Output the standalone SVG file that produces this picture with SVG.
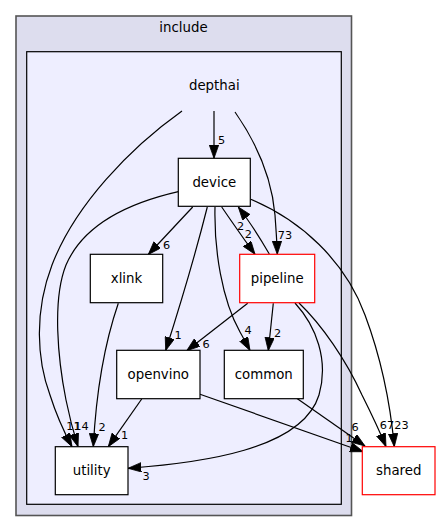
<svg xmlns="http://www.w3.org/2000/svg" width="440" height="532" viewBox="0 0 440 532">
<style>
text{font-family:"DejaVu Sans","Liberation Sans",sans-serif;fill:#000}
.nl{font-size:13.33px;text-anchor:middle}
.el{font-size:11.3px;text-anchor:middle}
.node rect{fill:#fff;stroke:#000;stroke-width:1.2}
.node.red rect{stroke:#ff0000}
.edges path{fill:none;stroke:#000;stroke-width:1.2;marker-end:url(#ah)}
</style>
<defs>
<marker id="ah" markerUnits="userSpaceOnUse" markerWidth="14" markerHeight="10" viewBox="0 0 14 10" refX="13.3" refY="4.7" orient="auto">
<path d="M0,0 L13.3,4.7 L0,9.4 z" fill="#000" stroke="#000" stroke-width="0.8"/>
</marker>
</defs>
<rect width="440" height="532" fill="#fff"/>
<g id="cluster_include">
<rect x="16" y="16" width="335.5" height="499.5" fill="#ddddee" stroke="#555" stroke-width="1.6"/>
<text class="nl" x="183.5" y="32">include</text>
</g>
<g id="cluster_depthai">
<rect x="26.7" y="51.7" width="314.6" height="452.6" fill="#eeeeff" stroke="#000" stroke-width="1.2"/>
<text class="nl" x="214.3" y="90">depthai</text>
</g>
<g class="edges" id="edges">
<path d="M214,111 L214,158.3"/>
<path d="M182,111 C130,148 75,205 52,265 C34,312 37,360 50,395 C56,414 63,430 72,446.7"/>
<path d="M178.3,191.7 C120,205 82,228 66,265 C52,300 58,360 66,400 C70,420 74,434 78,446.7"/>
<path d="M235,112 C258,145 272,180 275,215 C276,230 277,242 277.3,254.3"/>
<path d="M192.7,207 L148.3,254.5"/>
<path d="M207.3,207 C199,240 185,290 165.7,350.5"/>
<path d="M215,207 C214,250 222,300 240,332 C244,339 247,345 250,350.5"/>
<path d="M221.7,207 C232,222 243,238 255,254.3"/>
<path d="M269.3,254 C260,238 250,222 238.3,207"/>
<path d="M250.7,199.3 C300,220 345,260 365,315 C380,355 390,400 394.3,446.7"/>
<path d="M299,303 C322,325 346,360 362,395 C372,415 380,432 386,446.7"/>
<path d="M295,303 C316,326 329,360 319,395 C302,450 200,463 128,468.3"/>
<path d="M247.7,303.3 L186.7,350.7"/>
<path d="M273.3,303.3 L268.3,350.7"/>
<path d="M118.3,303.3 C104,345 96,395 93.3,446.7"/>
<path d="M141.7,399 L108.3,446.7"/>
<path d="M200,394.3 L363.3,451.7"/>
<path d="M296.7,398.3 L365,446"/>
</g>
<g id="edge_labels">
<text class="el" x="221.5" y="144">5</text>
<text class="el" x="73.5" y="429.5">11</text>
<text class="el" x="81.5" y="429.5">14</text>
<text class="el" x="285" y="239">73</text>
<text class="el" x="166.5" y="249">6</text>
<text class="el" x="178" y="338.7">1</text>
<text class="el" x="248" y="334.3">4</text>
<text class="el" x="248.3" y="238.3">2</text>
<text class="el" x="240.7" y="230">2</text>
<text class="el" x="401.5" y="429.3">23</text>
<text class="el" x="387" y="429.3">67</text>
<text class="el" x="146" y="480">3</text>
<text class="el" x="206" y="348.3">6</text>
<text class="el" x="277.5" y="336.7">2</text>
<text class="el" x="102" y="430.7">2</text>
<text class="el" x="124.5" y="439.3">1</text>
<text class="el" x="349" y="441.7">1</text>
<text class="el" x="355" y="430.7">6</text>
</g>
<g id="device" class="node"><rect x="178.3" y="158.3" width="72" height="48"/><text class="nl" x="214.3" y="186.5">device</text></g>
<g id="xlink" class="node"><rect x="90.3" y="254.3" width="72.4" height="48.4"/><text class="nl" x="126.5" y="283">xlink</text></g>
<g id="pipeline" class="node red"><rect x="239.7" y="254.3" width="75" height="48.4"/><text class="nl" x="277.2" y="283">pipeline</text></g>
<g id="openvino" class="node"><rect x="116.7" y="350.3" width="83.3" height="48.4"/><text class="nl" x="158.3" y="379">openvino</text></g>
<g id="common" class="node"><rect x="224.3" y="350.3" width="79" height="48.4"/><text class="nl" x="263.8" y="379">common</text></g>
<g id="utility" class="node"><rect x="55.3" y="446.7" width="72.7" height="48"/><text class="nl" x="91.7" y="475">utility</text></g>
<g id="shared" class="node red"><rect x="362.3" y="446.7" width="72.7" height="48"/><text class="nl" x="398.7" y="475">shared</text></g>
</svg>
